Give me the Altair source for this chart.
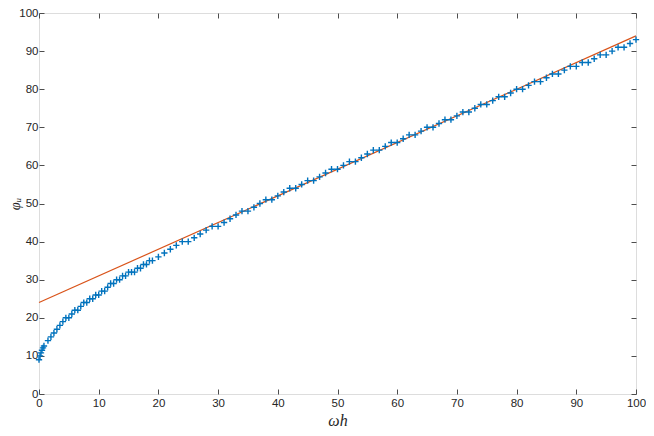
import altair as alt
import pandas as pd

# scatter data (omega*h, phi_u)
x_pts = [0, 0.17, 0.33, 0.5, 0.67, 0.83,
         1.5, 2, 2.5, 3, 3.5, 4, 4.5, 5, 5.5, 6, 6.5, 7, 7.5, 8, 8.5, 9, 9.5, 10,
         10.5, 11, 11.5, 12, 12.5, 13, 13.5, 14, 14.5, 15, 15.5, 16, 16.5, 17, 17.5, 18, 18.5, 19,
         20, 21, 22, 23, 24, 25, 26, 27, 28, 29,
         30, 31, 32, 33, 34, 35, 36, 37, 38, 39,
         40, 41, 42, 43, 44, 45, 46, 47, 48, 49,
         50, 51, 52, 53, 54, 55, 56, 57, 58, 59,
         60, 61, 62, 63, 64, 65, 66, 67, 68, 69,
         70, 71, 72, 73, 74, 75, 76, 77, 78, 79,
         80, 81, 82, 83, 84, 85, 86, 87, 88, 89,
         90, 91, 92, 93, 94, 95, 96, 97, 98, 99,
         100]
y_pts = [9, 10, 10.8, 11.5, 12.1, 12.6,
         14, 15, 16, 17, 18, 19, 20, 20, 21, 22, 22, 23, 24, 24, 25, 25, 26, 26,
         27, 27, 28, 29, 29, 30, 30, 31, 31, 32, 32, 32, 33, 33, 34, 34, 35, 35,
         36, 37, 38, 39, 40, 40, 41, 42, 43, 44,
         44, 45, 46, 47, 48, 48, 49, 50, 51, 51,
         52, 53, 54, 54, 55, 56, 56, 57, 58, 59,
         59, 60, 61, 61, 62, 63, 64, 64, 65, 66,
         66, 67, 68, 68, 69, 70, 70, 71, 72, 72,
         73, 74, 74, 75, 76, 76, 77, 78, 78, 79,
         80, 80, 81, 82, 82, 83, 84, 84, 85, 86,
         86, 87, 87, 88, 89, 89, 90, 91, 91, 92,
         93]

# fitted straight line
x_line = [0, 100]
y_line = [24, 94]

tick_vals = [0, 10, 20, 30, 40, 50, 60, 70, 80, 90, 100]

df_pts = pd.DataFrame({"x": x_pts, "y": y_pts})
df_line = pd.DataFrame({"x": x_line, "y": y_line})

AX = "#4d4d4d"
LBL = "#262626"
LFONT = "Liberation Sans"
TFONT = "Liberation Serif, DejaVu Serif"

xs = alt.Scale(domain=[0, 100], nice=False, zero=False)
ys = alt.Scale(domain=[0, 100], nice=False, zero=False)

common = dict(values=tick_vals, tickSize=5, offset=-5, domain=False, grid=False,
              tickColor=AX, tickWidth=1, labelFlush=False)

ax_bottom = alt.Axis(orient="bottom", labelPadding=3, labelFont=LFONT, labelFontSize=11.5,
                     labelColor=LBL, title="ωh", titleFont=TFONT,
                     titleFontStyle="italic", titleFontWeight="normal", titleFontSize=16,
                     titleColor=LBL, titlePadding=4, **common)
ax_left = alt.Axis(orient="left", labelPadding=1, labelFont=LFONT, labelFontSize=11.5,
                   labelColor=LBL, title="φᵤ", titleFont=TFONT,
                   titleFontStyle="italic", titleFontWeight="normal", titleFontSize=14.5,
                   titleColor=LBL, titleBaseline="middle", titleX=-28.5, **common)
ax_top = alt.Axis(orient="top", labels=False, title=None, **common)
ax_right = alt.Axis(orient="right", labels=False, title=None, **common)

line = alt.Chart(df_line).mark_line(color="#D95319", strokeWidth=1.2).encode(
    x=alt.X("x:Q", scale=xs, axis=ax_bottom),
    y=alt.Y("y:Q", scale=ys, axis=ax_left),
)

pts = alt.Chart(df_pts).mark_point(
    shape="M-1,0L1,0M0,-1L0,1", size=40, filled=False, color="#0072BD",
    strokeWidth=1.4, opacity=1,
).encode(
    x=alt.X("x:Q", scale=xs, axis=ax_top),
    y=alt.Y("y:Q", scale=ys, axis=ax_right),
)

chart = alt.layer(line, pts).resolve_axis(x="independent", y="independent").properties(
    width=597, height=381,
    autosize=alt.AutoSizeParams(type="none"),
    padding={"left": 31, "top": 5, "right": 10, "bottom": 34},
).configure_view(stroke=AX, strokeWidth=1).configure(background="white")

chart.save("out.html", embed_options={"renderer": "svg", "actions": False})
